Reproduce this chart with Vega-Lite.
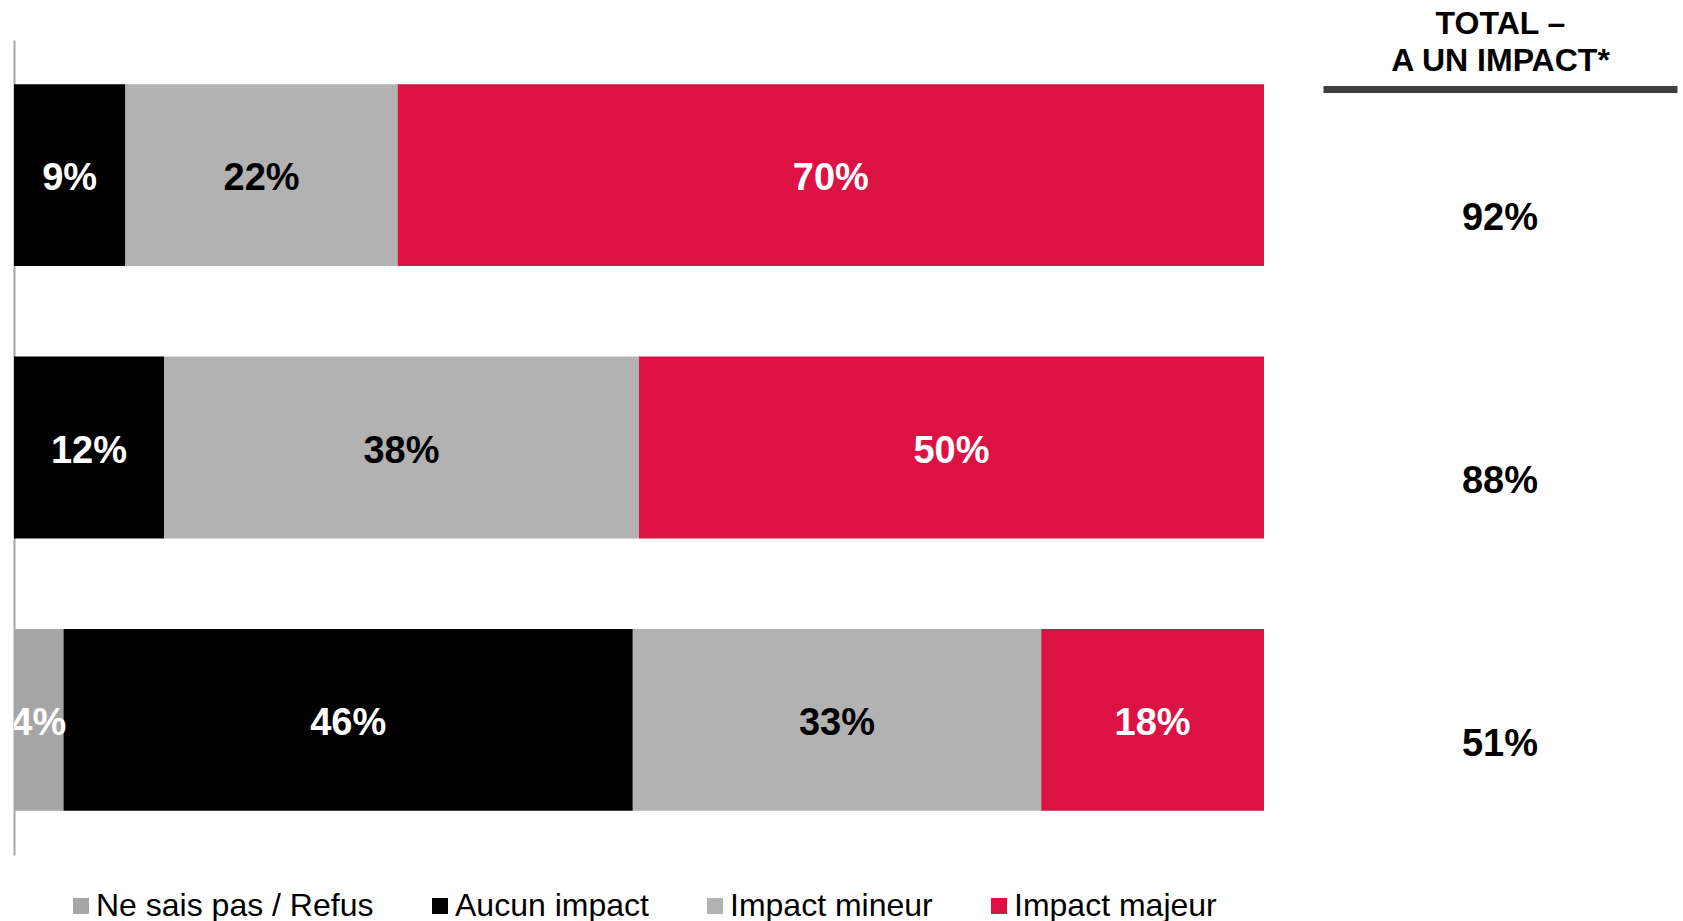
{
  "$schema": "https://vega.github.io/schema/vega-lite/v6.json",
  "padding": {"left": 14, "top": 7, "right": 5, "bottom": 5},
  "background": "white",
  "bounds": "flush",
  "spacing": 59,
  "config": {"view": {"stroke": null}, "font": "Liberation Sans"},
  "datasets": {
    "bars": [
      {"row": "r1", "cat": "Aucun impact", "ord": 2, "value": 0.09},
      {"row": "r1", "cat": "Impact mineur", "ord": 3, "value": 0.22},
      {"row": "r1", "cat": "Impact majeur", "ord": 4, "value": 0.70},
      {"row": "r2", "cat": "Aucun impact", "ord": 2, "value": 0.12},
      {"row": "r2", "cat": "Impact mineur", "ord": 3, "value": 0.38},
      {"row": "r2", "cat": "Impact majeur", "ord": 4, "value": 0.50},
      {"row": "r3", "cat": "Ne sais pas / Refus", "ord": 1, "value": 0.04},
      {"row": "r3", "cat": "Aucun impact", "ord": 2, "value": 0.46},
      {"row": "r3", "cat": "Impact mineur", "ord": 3, "value": 0.33},
      {"row": "r3", "cat": "Impact majeur", "ord": 4, "value": 0.18}
    ],
    "totals": [
      {"row": "r1", "col": "TOTAL", "total": 0.92},
      {"row": "r2", "col": "TOTAL", "total": 0.88},
      {"row": "r3", "col": "TOTAL", "total": 0.51}
    ]
  },
  "hconcat": [
    {
      "width": 1250,
      "height": 815,
      "data": {"name": "bars"},
      "encoding": {
        "y": {
          "field": "row", "type": "nominal", "sort": null,
          "scale": {"paddingInner": 0.332, "paddingOuter": 0.162},
          "axis": {"title": null, "labels": false, "ticks": false, "grid": false, "domain": true, "domainColor": "#A6A6A6", "domainWidth": 2}
        },
        "x": {"field": "value", "type": "quantitative", "stack": "normalize", "axis": null},
        "order": {"field": "ord", "type": "quantitative"}
      },
      "layer": [
        {
          "mark": {"type": "bar"},
          "encoding": {
            "color": {
              "field": "cat", "type": "nominal",
              "scale": {
                "domain": ["Ne sais pas / Refus", "Aucun impact", "Impact mineur", "Impact majeur"],
                "range": ["#A6A6A6", "#000000", "#B2B2B2", "#DC1245"]
              },
              "legend": {
                "orient": "none", "legendX": 51, "legendY": 850,
                "direction": "horizontal", "title": null,
                "symbolType": "square", "symbolSize": 256, "symbolStrokeWidth": 0,
                "labelFontSize": 32, "labelFont": "Liberation Sans", "labelColor": "#000000",
                "columnPadding": 50, "labelOffset": -1, "labelLimit": 0
              }
            }
          }
        },
        {
          "mark": {"type": "text", "fontSize": 38, "fontWeight": "bold", "clip": true, "dy": 4},
          "encoding": {
            "x": {"field": "value", "type": "quantitative", "stack": "normalize", "bandPosition": 0.5, "axis": null},
            "detail": {"field": "cat"},
            "text": {"field": "value", "type": "quantitative", "format": ".0%"},
            "color": {"condition": {"test": "datum.cat === 'Impact mineur'", "value": "#000000"}, "value": "#FFFFFF"}
          }
        }
      ]
    },
    {
      "width": 354,
      "height": 815,
      "data": {"name": "totals"},
      "mark": {"type": "text", "fontSize": 38, "fontWeight": "bold", "color": "#000000"},
      "encoding": {
        "x": {
          "field": "col", "type": "nominal",
          "axis": {
            "orient": "top", "offset": -49, "domain": true, "domainColor": "#404040", "domainWidth": 7,
            "ticks": false, "labels": false, "grid": false,
            "title": ["TOTAL –", "A UN IMPACT*"],
            "titleFontSize": 32, "titleFontWeight": "bold", "titleColor": "#000000",
            "titleLineHeight": 37, "titlePadding": 12, "titleFont": "Liberation Sans"
          }
        },
        "y": {
          "field": "row", "type": "nominal", "sort": null,
          "scale": {"type": "point", "padding": 0.549, "align": 0.619},
          "axis": null
        },
        "text": {"field": "total", "type": "quantitative", "format": ".0%"}
      }
    }
  ]
}
